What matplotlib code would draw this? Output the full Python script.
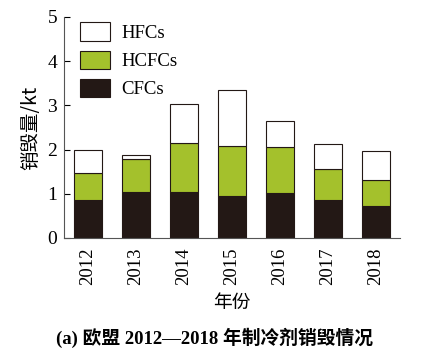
import numpy as np
import matplotlib
matplotlib.use('Agg')
import matplotlib.pyplot as plt

# 数据
years = ['2012', '2013', '2014', '2015', '2016', '2017', '2018']
cfcs = [0.86, 1.05, 1.05, 0.95, 1.02, 0.85, 0.73]
hcfcs_top = [1.48, 1.79, 2.14, 2.09, 2.06, 1.57, 1.31]
totals = [1.98, 1.88, 3.02, 3.34, 2.64, 2.12, 1.96]

cfcs = np.array(cfcs)
hcfcs = np.array(hcfcs_top) - cfcs
hfcs = np.array(totals) - np.array(hcfcs_top)

serif = ['Liberation Serif', 'Noto Sans CJK SC']
cjk = ['Noto Sans CJK SC', 'DejaVu Sans']

fig = plt.figure(figsize=(4.4, 3.52), dpi=100)
ax = fig.add_axes([0.1455, 0.324, 0.7636, 0.628])

x = np.arange(len(years))
w = 0.6
edge = dict(edgecolor='#231815', linewidth=0.8)
ax.bar(x, cfcs, w, color='#231815', label='CFCs', **edge)
ax.bar(x, hcfcs, w, bottom=cfcs, color='#a4c12c', label='HCFCs', **edge)
ax.bar(x, hfcs, w, bottom=cfcs + hcfcs, color='white', label='HFCs', **edge)

ax.set_xlim(-0.5, 6.5)
ax.set_ylim(0, 5)
ax.set_yticks([0, 1, 2, 3, 4, 5])
ax.set_xticks(x)
ax.set_xticklabels(years, rotation=90, fontfamily='Liberation Serif', fontsize=13.5)
for t in ax.get_yticklabels():
    t.set_fontfamily('Liberation Serif')
    t.set_fontsize(14)
ax.tick_params(axis='y', direction='in', length=4, width=0.8, pad=5)
ax.tick_params(axis='x', length=0, pad=7)
ax.spines['top'].set_visible(False)
ax.spines['right'].set_visible(False)
ax.spines['left'].set_color('#555555')
ax.spines['bottom'].set_color('#555555')

ax.set_ylabel('销毁量/kt', fontfamily=cjk, fontsize=14, labelpad=4)
ax.set_xlabel('年份', fontfamily=cjk, fontsize=13.5, labelpad=5)

handles, labels = ax.get_legend_handles_labels()
leg = ax.legend(handles[::-1], labels[::-1], loc='upper left', frameon=False,
                prop={'family': 'Liberation Serif', 'size': 13.5}, handlelength=1.6,
                handleheight=1.15, labelspacing=0.45, handletextpad=0.6,
                borderpad=0, borderaxespad=0, bbox_to_anchor=(0.048, 0.975))

fig.text(0.487, 0.04, '(a) 欧盟 2012—2018 年制冷剂销毁情况', ha='center', va='center',
         fontfamily=serif, fontsize=13.5, fontweight='bold')

fig.savefig('out.png', dpi=100)
